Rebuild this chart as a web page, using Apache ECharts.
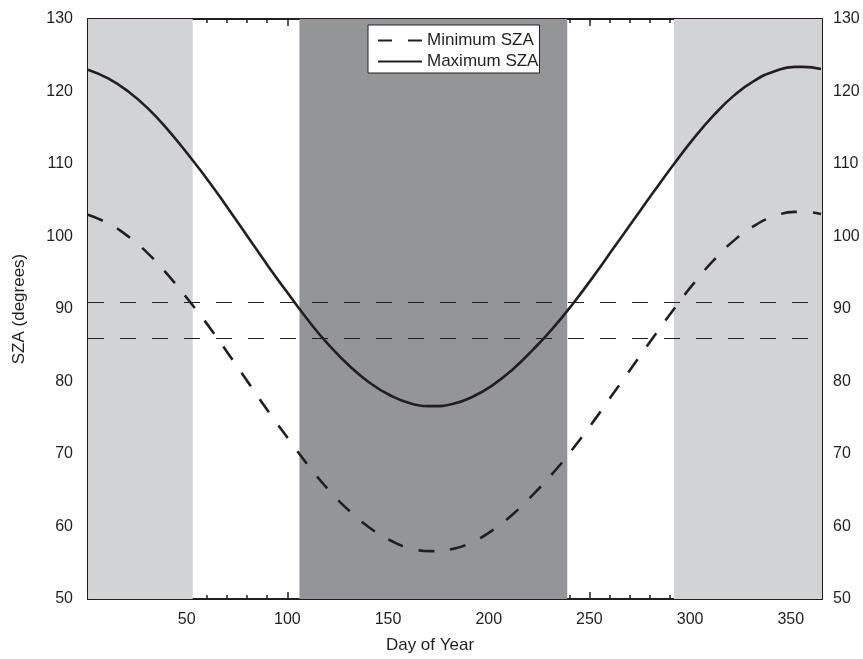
<!DOCTYPE html>
<html>
<head>
<meta charset="utf-8">
<script src="https://cdn.jsdelivr.net/npm/echarts@6/dist/echarts.min.js"></script>
<style>
  html, body { margin: 0; padding: 0; background: #ffffff; }
  #chart { width: 863px; height: 659px; }
</style>
</head>
<body>
<div id="chart"></div>
<script>
// ---- data ----
const days = [1, 11, 21, 31, 41, 51, 61, 71, 81, 91, 101, 111, 121, 131, 141, 151, 161, 172,
  182, 192, 202, 212, 222, 232, 242, 252, 262, 272, 282, 292, 302, 312, 322, 332, 342, 352, 356, 365];
const minSZA = [103.0, 101.8, 100.0, 97.6, 94.6, 91.2, 87.6, 83.7, 79.7, 75.7, 71.9, 68.2, 64.9, 62.1, 59.8, 58.1, 57.0, 56.6,
  56.9, 57.9, 59.5, 61.7, 64.4, 67.4, 70.8, 74.5, 78.4, 82.3, 86.2, 90.0, 93.6, 96.8, 99.5, 101.5, 102.8, 103.4, 103.4, 103.1];
const maxSZA = [123.0, 121.8, 120.0, 117.6, 114.6, 111.2, 107.6, 103.7, 99.7, 95.7, 91.9, 88.2, 84.9, 82.1, 79.8, 78.1, 77.0, 76.6,
  76.9, 77.9, 79.5, 81.7, 84.4, 87.4, 90.8, 94.5, 98.4, 102.3, 106.2, 110.0, 113.6, 116.8, 119.5, 121.5, 122.8, 123.4, 123.4, 123.1];
const thresholds = [91, 86];
const lightBands = [[1, 53], [292, 365.5]];
const darkBands = [[106, 239]];
const xMajorTicks = [50, 100, 150, 200, 250, 300, 350];
const xMinorTicks = [10, 20, 30, 40, 60, 70, 80, 90, 110, 120, 130, 140, 160, 170, 180, 190, 210, 220, 230, 240,
  260, 270, 280, 290, 310, 320, 330, 340, 360];
const seriesNames = ['Minimum SZA', 'Maximum SZA'];

// ---- styling ----
const INK = '#231f20';
const FONT = 'Liberation Sans, Arial, Helvetica, sans-serif';
const X_MIN = 1, X_MAX = 365.5;

function xAxisDef(pos, major, showLabels) {
  return {
    type: 'value', min: X_MIN, max: X_MAX, position: pos,
    axisLine: { show: major, onZero: false, lineStyle: { color: INK, width: 2 } },
    axisTick: { show: true, inside: true, length: major ? 7 : 4,
      customValues: major ? xMajorTicks : xMinorTicks, lineStyle: { color: INK, width: 1.5 } },
    axisLabel: { show: showLabels, customValues: xMajorTicks, margin: 13,
      color: INK, fontSize: 16, fontFamily: FONT },
    splitLine: { show: false }
  };
}

const xAxes = [
  Object.assign(xAxisDef('bottom', true, true), {
    name: 'Day of Year', nameLocation: 'middle', nameGap: 38,
    nameTextStyle: { color: INK, fontSize: 17, fontFamily: FONT, padding: [0, 50, 0, 0] }
  }),
  xAxisDef('bottom', false, false),
  xAxisDef('top', true, false),
  xAxisDef('top', false, false)
];

function yAxisDef(pos, margin) {
  return {
    type: 'value', min: 50, max: 130, interval: 10, position: pos,
    axisLine: { show: true, onZero: false, lineStyle: { color: INK, width: 2 } },
    axisTick: { show: true, inside: true, length: 7, lineStyle: { color: INK, width: 1.5 } },
    minorTick: { show: true, splitNumber: 2, length: 4, lineStyle: { color: INK, width: 1.5 } },
    axisLabel: { margin: margin, color: INK, fontSize: 16, fontFamily: FONT },
    splitLine: { show: false }
  };
}

const yAxes = [
  Object.assign(yAxisDef('left', 15), {
    name: 'SZA (degrees)', nameLocation: 'middle', nameGap: 60,
    nameTextStyle: { color: INK, fontSize: 17, fontFamily: FONT }
  }),
  yAxisDef('right', 11)
];

const bandAreas = [];
lightBands.forEach(b => bandAreas.push([{ xAxis: b[0], itemStyle: { color: '#d2d3d5' } }, { xAxis: b[1] }]));
darkBands.forEach(b => bandAreas.push([{ xAxis: b[0], itemStyle: { color: '#939598' } }, { xAxis: b[1] }]));

const chart = echarts.init(document.getElementById('chart'), null, { renderer: 'canvas' });
chart.setOption({
  animation: false,
  backgroundColor: '#ffffff',
  grid: { left: 88, right: 41, top: 19, bottom: 60, containLabel: false },
  xAxis: xAxes,
  yAxis: yAxes,
  legend: {
    data: [
      { name: seriesNames[0], lineStyle: { type: [14, 16] } },
      { name: seriesNames[1] }
    ],
    orient: 'vertical',
    left: 368, top: 25,
    backgroundColor: '#ffffff',
    borderColor: INK, borderWidth: 1,
    padding: [7, 1, 3, 9],
    itemWidth: 44, itemHeight: 16, itemGap: 4,
    itemStyle: { color: 'rgba(0,0,0,0)', borderWidth: 0, opacity: 0 },
    textStyle: { color: INK, fontSize: 17, fontFamily: FONT },
    selectedMode: false
  },
  series: [
    {
      name: 'bands', type: 'line', data: [], silent: true, z: 1,
      markArea: { silent: true, data: bandAreas },
      markLine: {
        silent: true, symbol: 'none', label: { show: false },
        lineStyle: { color: INK, width: 1, type: [16, 16] },
        data: thresholds.map(v => ({ yAxis: v }))
      }
    },
    {
      name: seriesNames[0], type: 'line', z: 3,
      data: days.map((d, i) => [d, minSZA[i]]),
      smooth: true, showSymbol: false, symbol: 'none',
      lineStyle: { color: INK, width: 2.6, type: [16, 16] },
      itemStyle: { color: INK }
    },
    {
      name: seriesNames[1], type: 'line', z: 3,
      data: days.map((d, i) => [d, maxSZA[i]]),
      smooth: true, showSymbol: false, symbol: 'none',
      lineStyle: { color: INK, width: 2.6 },
      itemStyle: { color: INK }
    }
  ]
});
</script>
</body>
</html>
